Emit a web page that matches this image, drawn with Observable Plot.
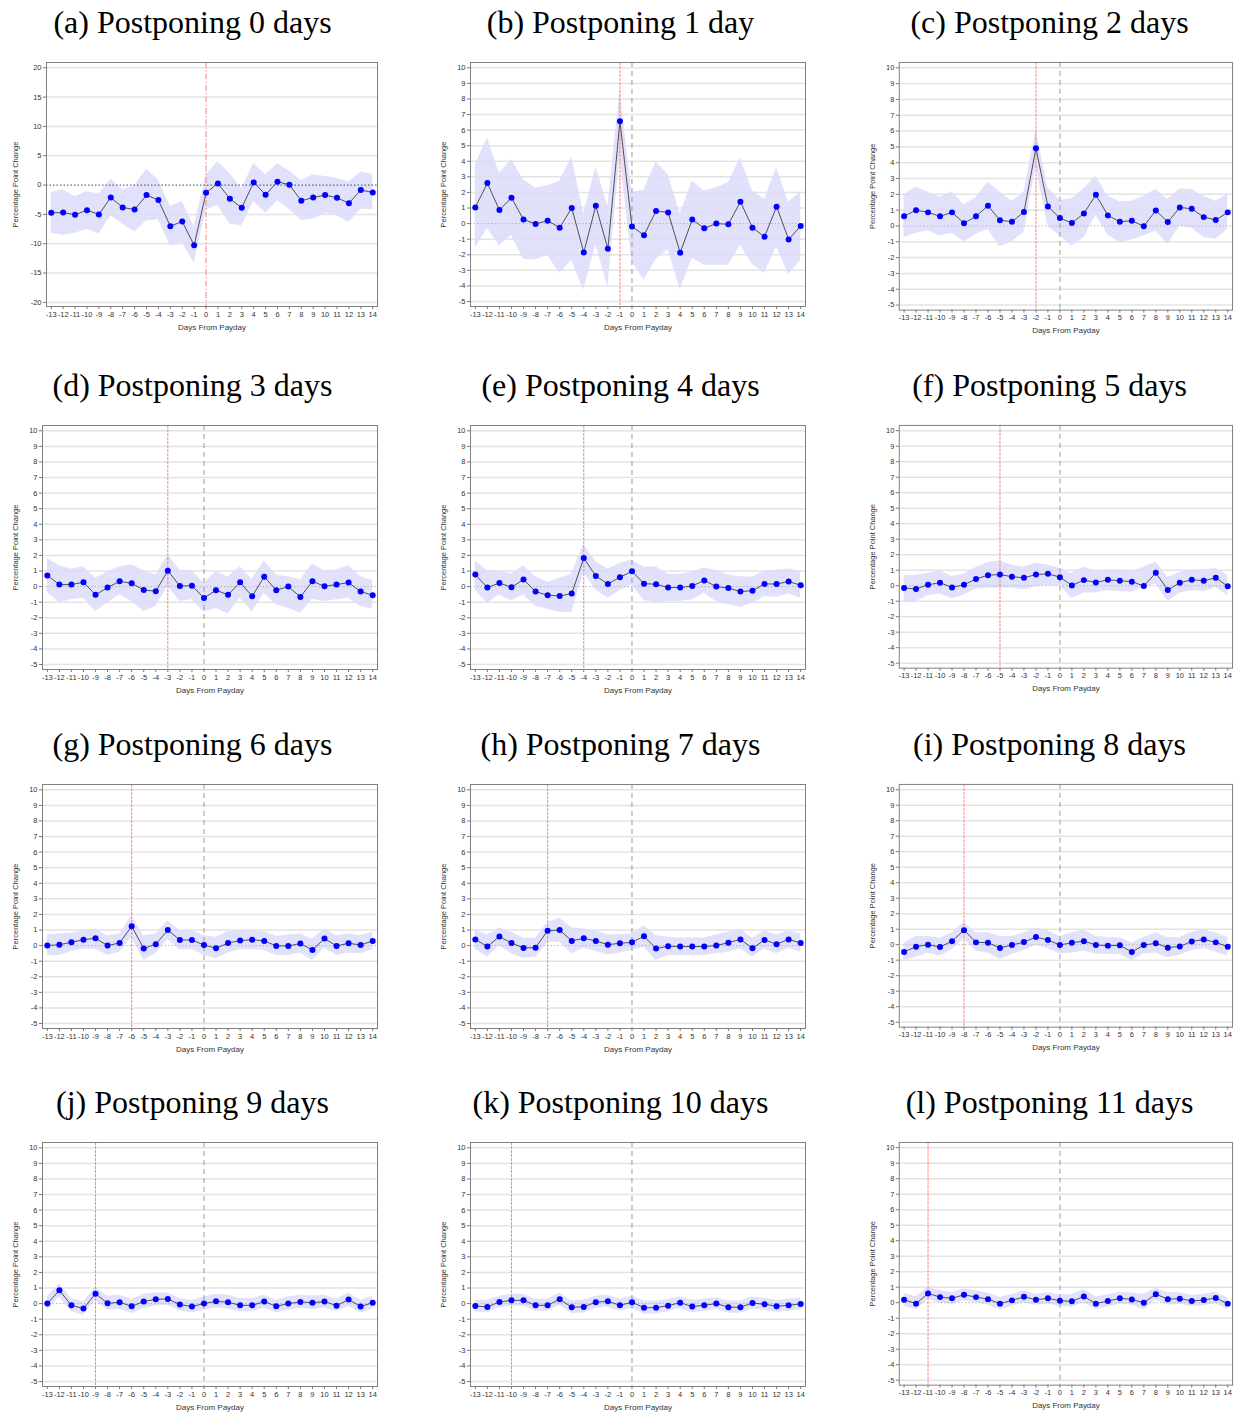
<!DOCTYPE html>
<html>
<head>
<meta charset="utf-8">
<script src="https://cdn.jsdelivr.net/npm/d3@7"></script>
<script src="https://cdn.jsdelivr.net/npm/@observablehq/plot@0.6"></script>
<style>
  html, body { margin: 0; padding: 0; background: #fff; }
  #root { position: relative; width: 1240px; height: 1416px; overflow: hidden; }
  .title { position: absolute; width: 385px; height: 44px; line-height: 44px; text-align: center;
           font-family: "Liberation Serif", "Times New Roman", serif; font-size: 32px; color: #000; white-space: nowrap; }
  .chart { position: absolute; }
</style>
</head>
<body>
<div id="root"></div>
<script>
// ---- Data ----
const days = [-13,-12,-11,-10,-9,-8,-7,-6,-5,-4,-3,-2,-1,0,1,2,3,4,5,6,7,8,9,10,11,12,13,14];
const titles = ["(a) Postponing 0 days","(b) Postponing 1 day","(c) Postponing 2 days","(d) Postponing 3 days",
  "(e) Postponing 4 days","(f) Postponing 5 days","(g) Postponing 6 days","(h) Postponing 7 days",
  "(i) Postponing 8 days","(j) Postponing 9 days","(k) Postponing 10 days","(l) Postponing 11 days"];
const postponeDays = [0,1,2,3,4,5,6,7,8,9,10,11];
const yTicksA = [-20,-15,-10,-5,0,5,10,15,20];
const yTicks = [-5,-4,-3,-2,-1,0,1,2,3,4,5,6,7,8,9,10];

const est_a = [-4.73,-4.67,-5.07,-4.27,-5.01,-2.11,-3.82,-4.16,-1.71,-2.56,-7.01,-6.21,-10.26,-1.31,0.28,-2.34,-3.87,0.46,-1.65,0.57,0.06,-2.68,-2.11,-1.71,-2.17,-3.08,-0.85,-1.25];
const hi_a  = [-1.25,-0.8,-2.0,-1.08,-1.54,1.03,-0.85,-0.11,2.68,0.85,-3.65,-2.79,-7.07,1.71,3.99,1.99,-0.57,3.70,1.77,3.65,2.39,0.74,1.77,1.48,1.14,0.51,2.22,1.82];
const lo_a  = [-8.2,-8.55,-8.2,-7.52,-8.38,-5.24,-6.67,-7.98,-6.1,-5.93,-10.37,-9.8,-13.33,-4.22,-3.53,-6.67,-6.95,-2.74,-4.84,-2.68,-4.1,-6.04,-5.81,-4.79,-5.24,-6.38,-4.1,-4.22];

const est_b = [1.04,2.6,0.87,1.66,0.26,-0.02,0.19,-0.26,1.0,-1.85,1.15,-1.62,6.57,-0.19,-0.74,0.81,0.72,-1.87,0.26,-0.3,0,-0.04,1.4,-0.26,-0.85,1.09,-1.02,-0.15];
const hi_b  = [3.79,5.49,3.23,4.1,2.81,2.28,2.43,2.72,4.28,0.64,3.64,1.13,8.53,2.0,2.15,3.96,3.15,0.6,2.74,2.09,2.3,2.64,4.21,2.09,1.57,3.57,1.36,2.04];
const lo_b  = [-1.57,-0.3,-1.43,-0.74,-2.3,-2.34,-2.04,-3.19,-2.36,-4.3,-1.36,-4.09,4.38,-2.43,-3.62,-2.28,-1.68,-4.26,-2.23,-2.68,-2.68,-2.68,-1.4,-2.64,-3.19,-1.47,-3.28,-2.38];

const est_c = [0.61,1.0,0.86,0.61,0.86,0.17,0.61,1.28,0.36,0.27,0.88,4.92,1.23,0.5,0.19,0.79,1.97,0.67,0.27,0.33,-0.02,0.98,0.25,1.17,1.09,0.56,0.38,0.86];
const hi_c  = [1.99,2.47,2.13,1.82,2.15,1.34,1.78,2.76,2.15,1.55,2.15,6.07,2.41,1.63,1.74,2.36,3.14,1.88,1.53,1.57,1.88,2.3,1.67,2.34,2.3,1.88,1.57,1.99];
const lo_c  = [-0.73,-0.46,-0.31,-0.63,-0.46,-1.0,-0.54,-0.23,-1.32,-1.0,-0.42,3.77,0.0,-0.63,-1.26,-0.73,0.69,-0.59,-1.05,-0.88,-0.63,-0.31,-1.15,0.0,-0.15,-0.73,-0.84,-0.21];

const est_d = [0.72,0.13,0.13,0.28,-0.53,-0.06,0.34,0.21,-0.21,-0.3,1.02,0.04,0.06,-0.73,-0.23,-0.53,0.28,-0.62,0.64,-0.23,0,-0.66,0.34,0.02,0.13,0.26,-0.32,-0.55];
const hi_d  = [1.81,1.34,1.11,1.28,0.53,0.96,1.28,1.41,1.02,0.75,2.03,1.07,1.02,0.21,0.96,0.64,1.28,0.47,1.64,0.75,0.64,0.43,1.45,1.02,1.07,1.34,0.64,0.38];
const lo_d  = [-0.38,-1.02,-0.85,-0.75,-1.6,-1.07,-0.53,-0.96,-1.6,-1.28,0.0,-0.96,-0.85,-1.64,-1.39,-1.75,-0.75,-1.64,-0.43,-1.17,-1.39,-1.71,-0.81,-0.96,-0.85,-0.75,-1.28,-1.45];

const est_e = [0.77,-0.06,0.23,-0.04,0.45,-0.32,-0.55,-0.6,-0.45,1.83,0.68,0.17,0.6,0.98,0.19,0.15,-0.06,-0.06,0.04,0.4,0,-0.09,-0.32,-0.26,0.17,0.17,0.32,0.09];
const hi_e  = [1.64,1.0,1.0,0.81,1.34,0.64,0.26,0.53,0.81,2.71,1.6,1.11,1.49,1.7,1.24,1.28,0.79,0.79,0.92,1.21,1.02,0.75,0.64,0.6,1.0,1.07,1.13,0.96];
const lo_e  = [-0.21,-1.07,-0.53,-0.92,-0.53,-1.28,-1.45,-1.66,-1.66,0.89,-0.21,-0.75,-0.26,0.11,-0.89,-1.02,-0.96,-0.96,-0.85,-0.43,-0.96,-1.17,-1.32,-1.07,-0.64,-0.68,-0.47,-0.75];

const est_f = [-0.15,-0.21,0.06,0.19,-0.11,0.06,0.43,0.68,0.72,0.58,0.51,0.72,0.77,0.55,0.02,0.36,0.21,0.38,0.32,0.26,-0.02,0.83,-0.28,0.19,0.38,0.32,0.51,-0.04];
const hi_f  = [0.64,0.68,0.81,0.96,0.6,0.75,1.17,1.49,1.6,1.32,1.21,1.45,1.34,1.11,0.81,1.21,0.89,1.02,1.02,0.92,1.21,1.53,0.53,0.85,1.02,1.02,1.11,0.68];
const lo_f  = [-1.02,-1.02,-0.64,-0.53,-0.85,-0.6,-0.21,-0.17,-0.17,-0.17,-0.26,-0.06,0,0,-0.81,-0.47,-0.47,-0.32,-0.38,-0.43,-0.11,0.11,-1.02,-0.49,-0.32,-0.38,-0.11,-0.64];

const est_g = [0,0.06,0.21,0.38,0.47,0,0.17,1.24,-0.19,0.09,1.0,0.36,0.36,0.04,-0.17,0.17,0.32,0.38,0.3,-0.02,-0.02,0.13,-0.28,0.45,-0.02,0.15,0.04,0.3];
const hi_g  = [0.68,0.75,0.81,0.96,1.07,0.64,0.75,1.92,0.64,0.75,1.6,0.96,0.96,0.64,0.53,0.89,0.96,0.96,0.89,0.6,0.68,0.75,0.43,1.07,0.64,0.75,0.64,0.85];
const lo_g  = [-0.64,-0.64,-0.38,-0.21,-0.21,-0.64,-0.43,0.53,-0.96,-0.53,0.38,-0.26,-0.26,-0.6,-0.85,-0.47,-0.26,-0.26,-0.32,-0.64,-0.64,-0.47,-0.96,-0.17,-0.64,-0.47,-0.53,-0.26];

const est_h = [0.4,-0.06,0.58,0.17,-0.15,-0.13,0.96,1.0,0.3,0.47,0.3,0.06,0.15,0.21,0.6,-0.19,-0.04,-0.06,-0.06,-0.06,0,0.19,0.4,-0.17,0.36,0.09,0.4,0.17];
const hi_h  = [1.02,0.68,1.13,0.85,0.47,0.47,1.49,1.75,1.15,1.07,0.96,0.7,0.7,0.75,1.28,0.64,0.53,0.49,0.49,0.49,0.7,0.85,1.07,0.47,0.96,0.7,0.96,0.75];
const lo_h  = [-0.21,-0.75,0,-0.53,-0.81,-0.75,0.21,0.21,-0.53,-0.17,-0.38,-0.6,-0.47,-0.32,-0.11,-0.96,-0.64,-0.64,-0.64,-0.64,-0.53,-0.43,-0.21,-0.75,-0.21,-0.53,-0.17,-0.43];

const est_i = [-0.47,-0.13,0,-0.15,0.23,0.94,0.15,0.13,-0.21,-0.02,0.17,0.49,0.3,-0.02,0.13,0.23,-0.02,-0.06,-0.04,-0.47,-0.02,0.09,-0.19,-0.11,0.21,0.34,0.15,-0.13];
const hi_i  = [0.11,0.53,0.53,0.43,0.75,1.45,0.75,0.79,0.53,0.53,0.75,1.07,0.89,0.53,0.75,0.96,0.53,0.47,0.47,0.11,0.47,0.75,0.47,0.47,0.81,0.96,0.75,0.47];
const lo_i  = [-1.02,-0.81,-0.53,-0.75,-0.32,0.38,-0.43,-0.53,-0.96,-0.64,-0.38,-0.04,-0.26,-0.6,-0.53,-0.43,-0.6,-0.64,-0.64,-1.02,-0.6,-0.53,-0.85,-0.68,-0.38,-0.26,-0.47,-0.75];

const est_j = [0,0.85,-0.11,-0.32,0.64,0.02,0.09,-0.17,0.13,0.28,0.3,-0.06,-0.19,0,0.15,0.09,-0.11,-0.11,0.13,-0.17,0,0.11,0.06,0.13,-0.13,0.26,-0.19,0.06];
const hi_j  = [0.43,1.28,0.32,0.11,1.07,0.47,0.53,0.26,0.6,0.68,0.68,0.32,0.21,0.43,0.6,0.53,0.32,0.32,0.53,0.21,0.43,0.53,0.49,0.53,0.28,0.68,0.21,0.47];
const lo_j  = [-0.43,0.43,-0.53,-0.75,0.21,-0.43,-0.36,-0.64,-0.32,-0.15,-0.11,-0.47,-0.6,-0.43,-0.28,-0.36,-0.53,-0.53,-0.28,-0.6,-0.43,-0.32,-0.38,-0.28,-0.53,-0.17,-0.6,-0.36];

const est_k = [-0.15,-0.21,0.11,0.21,0.21,-0.11,-0.11,0.28,-0.23,-0.21,0.09,0.15,-0.11,0.09,-0.26,-0.26,-0.13,0.06,-0.19,-0.11,0,-0.23,-0.23,0.04,-0.04,-0.17,-0.11,-0.02];
const hi_k  = [0.21,0.21,0.47,0.6,0.6,0.28,0.28,0.68,0.17,0.21,0.47,0.53,0.28,0.47,0.17,0.17,0.26,0.43,0.21,0.28,0.38,0.17,0.17,0.43,0.32,0.21,0.28,0.36];
const lo_k  = [-0.53,-0.6,-0.26,-0.17,-0.17,-0.49,-0.49,-0.11,-0.64,-0.6,-0.3,-0.23,-0.49,-0.3,-0.66,-0.66,-0.53,-0.32,-0.58,-0.49,-0.38,-0.62,-0.62,-0.34,-0.43,-0.55,-0.49,-0.4];

const est_l = [0.19,-0.06,0.6,0.36,0.28,0.51,0.36,0.23,-0.06,0.15,0.38,0.19,0.28,0.13,0.09,0.4,-0.06,0.11,0.28,0.21,0,0.55,0.23,0.26,0.11,0.17,0.3,-0.06];
const hi_l  = [0.6,0.38,1.0,0.77,0.66,0.9,0.75,0.62,0.34,0.53,0.77,0.55,0.64,0.51,0.51,0.85,0.36,0.49,0.68,0.62,0.55,0.94,0.64,0.64,0.47,0.55,0.68,0.3];
const lo_l  = [-0.23,-0.45,0.2,-0.04,-0.1,0.13,-0.02,-0.15,-0.45,-0.23,0.0,-0.17,-0.08,-0.25,-0.3,0.0,-0.45,-0.28,-0.1,-0.17,-0.45,0.17,-0.17,-0.1,-0.25,-0.2,-0.06,-0.45];

const estimates = [est_a,est_b,est_c,est_d,est_e,est_f,est_g,est_h,est_i,est_j,est_k,est_l];
const uppers    = [hi_a,hi_b,hi_c,hi_d,hi_e,hi_f,hi_g,hi_h,hi_i,hi_j,hi_k,hi_l];
const lowers    = [lo_a,lo_b,lo_c,lo_d,lo_e,lo_f,lo_g,lo_h,lo_i,lo_j,lo_k,lo_l];

// ---- Layout ----
const colLeft = [0, 428, 857];
const rowTop = [0, 363, 722, 1080];
const root = document.getElementById("root");
const fmt = d => String(d);

titles.forEach((title, i) => {
  const col = i % 3, row = Math.floor(i / 3);
  const k = postponeDays[i];
  const isA = i === 0;
  const data = days.map((d, j) => ({day: d, est: estimates[i][j], lo: lowers[i][j], hi: uppers[i][j]}));
  const ml = isA ? 46 : 42;
  const frameH = i === 2 ? 249 : 244;
  const ticks = isA ? yTicksA : yTicks;
  const gridTicks = ticks.filter(t => t !== 0);

  const t = document.createElement("div");
  t.className = "title";
  t.style.left = colLeft[col] + "px";
  t.style.top = rowTop[row] + "px";
  t.textContent = title;
  root.appendChild(t);

  const marks = [
    Plot.gridY(gridTicks, {stroke: "#e3e3e3", strokeOpacity: 1, strokeWidth: 1.5}),
    Plot.areaY(data, {x: "day", y1: "lo", y2: "hi", fill: "#dcdcfc", fillOpacity: 0.85}),
    Plot.ruleY([0], {stroke: isA ? "#444" : "#b8b8b8", strokeDasharray: "1.5,2", strokeWidth: 1})
  ];
  if (k > 0) marks.push(Plot.ruleX([0], {stroke: "#999", strokeDasharray: "5,4", strokeWidth: 1}));
  marks.push(Plot.ruleX([-k], {stroke: "#ff8080", strokeDasharray: isA ? "6,2,1.5,2" : "3,1", strokeWidth: 1}));
  marks.push(
    Plot.line(data, {x: "day", y: "est", stroke: "#505050", strokeWidth: 1}),
    Plot.dot(data, {x: "day", y: "est", fill: "#0000ff", r: 3}),
    Plot.frame({stroke: "#808080"}),
    Plot.axisX({ticks: days, tickFormat: fmt, tickSize: 3, tickPadding: 2, label: null, stroke: "#777", fill: "#333"}),
    Plot.axisY({ticks: ticks, tickFormat: fmt, tickSize: 3, tickPadding: 2, label: null, stroke: "#777", fill: "#333"}),
    Plot.text(["Percentage Point Change"], {text: d => d, frameAnchor: "left", textAnchor: "middle", dx: -(ml - 15), rotate: -90, fontSize: 7.5, fill: "#333"}),
    Plot.text(["Days From Payday"], {text: d => d, frameAnchor: "bottom", textAnchor: "middle", dy: 23, fontSize: 8, fill: "#333"})
  );

  const svg = Plot.plot({
    width: 385,
    height: 13 + frameH + 30,
    marginLeft: ml, marginRight: 8, marginTop: 13, marginBottom: 30,
    style: {fontFamily: "'Liberation Sans', Arial, sans-serif", fontSize: "7.5px", background: "white", color: "#333"},
    x: {domain: [-13.4, 14.4], label: null},
    y: {domain: isA ? [-20.7, 20.9] : [-5.32, 10.34], label: null},
    marks
  });
  const wrap = document.createElement("div");
  wrap.className = "chart";
  wrap.style.left = colLeft[col] + "px";
  wrap.style.top = (rowTop[row] + 49) + "px";
  wrap.appendChild(svg);
  root.appendChild(wrap);
});
</script>
</body>
</html>
